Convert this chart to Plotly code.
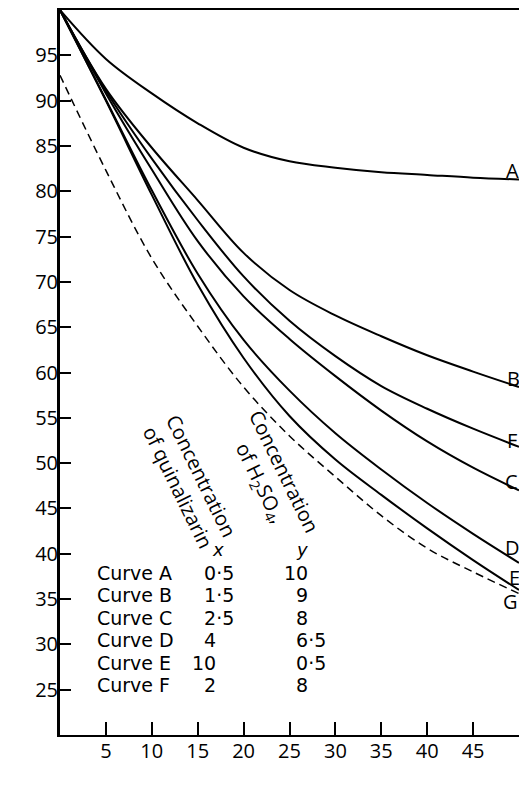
import plotly.graph_objects as go

# ---------------- data ----------------
conc = [0, 5, 10, 15, 20, 25, 30, 35, 40, 45, 50]
curve_A = [100, 94.6, 90.8, 87.5, 84.8, 83.3, 82.6, 82.1, 81.8, 81.5, 81.3]
curve_B = [100, 91.3, 84.8, 79.0, 73.2, 69.1, 66.3, 64.0, 61.9, 60.1, 58.4]
curve_F = [100, 91.1, 83.6, 76.8, 70.6, 65.7, 61.8, 58.5, 56.0, 53.8, 51.8]
curve_C = [100, 90.8, 82.4, 74.5, 68.4, 63.7, 59.6, 55.8, 52.4, 49.5, 47.0]
curve_D = [100, 90.1, 80.1, 70.9, 63.6, 58.0, 53.3, 49.3, 45.6, 42.2, 39.0]
curve_E = [100, 90.0, 79.6, 69.7, 61.6, 55.2, 50.4, 46.5, 42.8, 39.3, 36.0]
curve_G = [92.8, 82.3, 72.6, 65.1, 58.4, 53.0, 48.5, 44.2, 40.6, 38.0, 35.6]

table_curves = ["Curve A", "Curve B", "Curve C", "Curve D", "Curve E", "Curve F"]
quinalizarin_x = ["0·5", "1·5", "2·5", "4", "10", "2"]
h2so4_y = ["10", "9", "8", "6·5", "0·5", "8"]

x_ticks = [5, 10, 15, 20, 25, 30, 35, 40, 45]
y_ticks = [25, 30, 35, 40, 45, 50, 55, 60, 65, 70, 75, 80, 85, 90, 95]

# ---------------- layout geometry ----------------
W, H = 519, 788
ML, MR, MT, MB = 60, 0, 10, 53
XR = [0, 50]
YR = [20, 100]
FONT = "Open Sans"
TFONT = "DejaVu Sans"
FIG_SP = "\u2007"  # figure space for decimal alignment


def dx(px):
    return XR[0] + (px - ML) / (W - ML - MR) * (XR[1] - XR[0])


def dy(py):
    return YR[1] - (py - MT) / (H - MT - MB) * (YR[1] - YR[0])


fig = go.Figure()
solid = [("A", curve_A), ("B", curve_B), ("F", curve_F), ("C", curve_C),
         ("D", curve_D), ("E", curve_E)]
for name, vals in solid:
    fig.add_trace(go.Scatter(x=conc, y=vals, mode="lines", name=name,
                             line=dict(color="black", width=2, shape="spline", smoothing=1.0),
                             showlegend=False, hoverinfo="skip"))
fig.add_trace(go.Scatter(x=conc, y=curve_G, mode="lines", name="G",
                         line=dict(color="black", width=1.5, dash="8px,5px",
                                   shape="spline", smoothing=1.0),
                         showlegend=False, hoverinfo="skip"))

ann = []
# curve end labels
end_labels = [("A", 512, 170), ("B", 513, 378), ("F", 512, 440), ("C", 511, 481),
              ("D", 512, 547), ("E", 514, 577), ("G", 510, 601)]
for t, px, py in end_labels:
    ann.append(dict(x=dx(px), y=dy(py), text=t, showarrow=False,
                    xanchor="center", yanchor="middle",
                    font=dict(family=FONT, size=20, color="black")))

# table: one block per column; outer font sets line pitch (1.3 em = 22.4 px),
# inner span sets glyph size
ROW_PITCH = 22.4
outer = ROW_PITCH / 1.3
TABLE_SIZE = 19


def block(lines):
    return "<br>".join('<span style="font-size:%dpx">%s</span>' % (TABLE_SIZE, s) for s in lines)


def pad(v):
    ip = v.split("·")[0]
    return (FIG_SP * (2 - len(ip))) + v


table_mid = 629
ann.append(dict(x=dx(95), y=dy(table_mid), text=block(table_curves), showarrow=False,
                xanchor="left", yanchor="middle", align="left",
                font=dict(family=TFONT, size=outer, color="black")))
ann.append(dict(x=dx(190), y=dy(table_mid), text=block([pad(v) for v in quinalizarin_x]),
                showarrow=False, xanchor="left", yanchor="middle", align="left",
                font=dict(family=TFONT, size=outer, color="black")))
ann.append(dict(x=dx(282), y=dy(table_mid), text=block([pad(v) for v in h2so4_y]),
                showarrow=False, xanchor="left", yanchor="middle", align="left",
                font=dict(family=TFONT, size=outer, color="black")))

ann.append(dict(x=dx(218), y=dy(549), text="<i>x</i>", showarrow=False,
                xanchor="center", yanchor="middle",
                font=dict(family=TFONT, size=18, color="black")))
ann.append(dict(x=dx(302), y=dy(549), text="<i>y</i>", showarrow=False,
                xanchor="center", yanchor="middle",
                font=dict(family=TFONT, size=18, color="black")))

# rotated column headers
ann.append(dict(x=dx(190), y=dy(481), text="Concentration<br>of quinalizarin",
                showarrow=False, textangle=64, align="center",
                xanchor="center", yanchor="middle",
                font=dict(family=FONT, size=20, color="black")))
ann.append(dict(x=dx(272), y=dy(477), text="Concentration<br>of H<sub>2</sub>SO<sub>4</sub>,",
                showarrow=False, textangle=64, align="center",
                xanchor="center", yanchor="middle",
                font=dict(family=FONT, size=20, color="black")))

# axis titles
ann.append(dict(x=dx(22), y=dy(419), text="Transmission, %", showarrow=False,
                textangle=-90, xanchor="center", yanchor="middle",
                font=dict(family=FONT, size=19, color="black")))
ann.append(dict(x=dx(280), y=dy(769), text="Concentration of boric acid, <i>μ</i>g per ml",
                showarrow=False, xanchor="center", yanchor="middle",
                font=dict(family=FONT, size=20, color="black")))

for a in ann:
    a.setdefault("xref", "x")
    a.setdefault("yref", "y")

fig.update_layout(
    width=W, height=H,
    margin=dict(l=ML, r=MR, t=MT, b=MB, pad=0),
    paper_bgcolor="white", plot_bgcolor="white",
    showlegend=False,
    annotations=ann,
    xaxis=dict(range=XR, tickvals=x_ticks, ticks="inside", ticklen=13, tickwidth=1.5,
               tickcolor="black", showline=True, linecolor="black", linewidth=2,
               mirror=True, showgrid=False, zeroline=False, ticklabelstandoff=-3,
               tickfont=dict(family=FONT, size=20, color="black")),
    yaxis=dict(range=YR, tickvals=y_ticks, ticks="inside", ticklen=11, tickwidth=1.5,
               tickcolor="black", showline=True, linecolor="black", linewidth=3,
               showgrid=False, zeroline=False, ticklabelstandoff=-5,
               tickfont=dict(family=FONT, size=20, color="black")),
)

fig.write_html("out.html")
